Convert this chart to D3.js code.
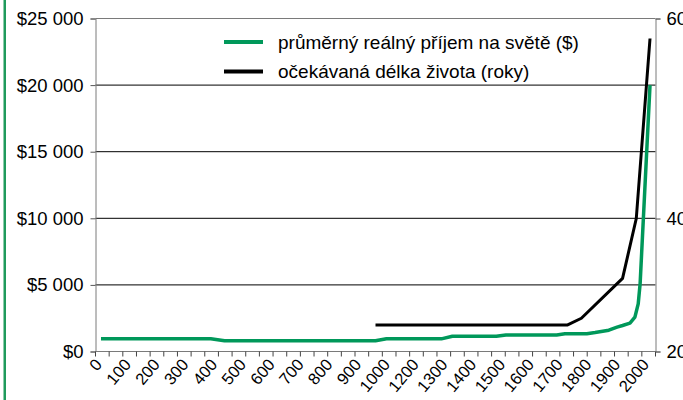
<!DOCTYPE html>
<html><head><meta charset="utf-8">
<script src="https://cdn.jsdelivr.net/npm/d3@7"></script>
<style>
html,body{margin:0;padding:0;background:#fff;}
svg{display:block;font-family:"Liberation Sans",Arial,Helvetica,sans-serif;}
</style></head>
<body>
<svg id="chart" width="683" height="400"></svg>
<script>
// ---- data ----
const categories = [0,50,100,150,200,250,300,350,400,450,500,550,600,650,700,750,800,850,900,950,1000,
  1050,1100,1150,1200,1250,1300,1350,1400,1450,1500,1550,1600,1650,1700,1750,1800,1850,1900,1950,2000];
const xTickLabels = ["0","100","200","300","400","500","600","700","800","900","1000",
  "1200","1300","1400","1500","1600","1700","1800","1900","2000"];
const incomeYears  = [0, 400, 450, 1000, 1040, 1240, 1280, 1440, 1475, 1660, 1690, 1770, 1800, 1850, 1880, 1900, 1927, 1945, 1957, 1964, 2000];
const incomeValues = [950, 950, 800, 800, 950, 950, 1150, 1150, 1240, 1240, 1330, 1330, 1420, 1600, 1830, 1950, 2130, 2580, 3580, 5100, 20000];
const lifeYears  = [1000, 1700, 1750, 1900, 1950, 2000];
const lifeValues = [24, 24, 25, 31, 40, 58];
const leftTicks  = [0, 5000, 10000, 15000, 20000, 25000];
const rightTicks = [20, 40, 60];
const legendLabels = ["průměrný reálný příjem na světě ($)", "očekávaná délka života (roky)"];
const seriesColors = ["#00985a", "#000000"];

// ---- layout ----
const L = 95.5, R = 655.5, T = 18.5, B = 351.5;
const svg = d3.select("#chart");
const fontAxis = "18.5px";

const x = d3.scaleLinear().domain([-20, 2020]).range([L, R]);
const xBand = d3.scaleBand().domain(categories).range([L, R]);
const xLab = d3.scalePoint().domain(xTickLabels).range([103, 650]);
const yL = d3.scaleLinear().domain([0, 25000]).range([B, T]);
const yR = d3.scaleLinear().domain([20, 40, 60]).range([B, 218.5, T]);

const loc = d3.formatLocale({decimal: ",", thousands: " ", grouping: [3], currency: ["$", ""]});
const fmt = loc.format("$,.0f");

// left green frame bar
svg.append("rect").attr("x", 3.5).attr("y", 0).attr("width", 2.5).attr("height", 400).attr("fill", "#1f9a5c");

// gridlines
svg.append("g").selectAll("line").data(leftTicks.filter(d => d > 0 && d < 25000)).join("line")
  .attr("x1", L).attr("x2", R).attr("y1", d => yL(d)).attr("y2", d => yL(d))
  .attr("stroke", "#000").attr("stroke-width", 1);
// top border
svg.append("line").attr("x1", L).attr("x2", R).attr("y1", T).attr("y2", T).attr("stroke", "#7a7a7a");

// left axis
const gL = svg.append("g").attr("transform", `translate(${L},0)`)
  .call(d3.axisLeft(yL).tickValues(leftTicks).tickFormat(fmt).tickSize(5).tickPadding(7));
gL.select(".domain").attr("stroke", "#7a7a7a");
gL.selectAll(".tick line").attr("stroke", "#555");
gL.selectAll("text").attr("font-size", fontAxis).attr("font-family", "Liberation Sans, Arial, sans-serif").attr("fill", "#000");

// right axis
const gR = svg.append("g").attr("transform", `translate(${R},0)`)
  .call(d3.axisRight(yR).tickValues(rightTicks).tickSize(5).tickPadding(6));
gR.select(".domain").attr("stroke", "#7a7a7a");
gR.selectAll(".tick line").attr("stroke", "#555");
gR.selectAll("text").attr("font-size", fontAxis).attr("font-family", "Liberation Sans, Arial, sans-serif").attr("fill", "#000");

// bottom axis: line + tick marks at category boundaries
svg.append("line").attr("x1", L).attr("x2", R).attr("y1", B).attr("y2", B).attr("stroke", "#7a7a7a");
const bounds = categories.map(c => xBand(c)).concat([xBand(categories[categories.length-1]) + xBand.bandwidth()]);
svg.append("g").selectAll("line").data(bounds).join("line")
  .attr("x1", d => d).attr("x2", d => d).attr("y1", B).attr("y2", B + 5)
  .attr("stroke", "#444");
svg.append("g").selectAll("text").data(xTickLabels).join("text")
  .attr("transform", d => `translate(${xLab(d)},365) rotate(-50)`)
  .attr("text-anchor", "end").attr("font-size", "16.5px").attr("fill", "#000")
  .text(d => d);

// lines
const incomeLine = d3.line().x((d, i) => x(incomeYears[i])).y(d => yL(d));
svg.append("path").datum(incomeValues).attr("d", incomeLine)
  .attr("fill", "none").attr("stroke", seriesColors[0]).attr("stroke-width", 3.5)
  .attr("stroke-linejoin", "round");
const lifeLine = d3.line().x((d, i) => x(lifeYears[i])).y(d => yR(d));
svg.append("path").datum(lifeValues).attr("d", lifeLine)
  .attr("fill", "none").attr("stroke", seriesColors[1]).attr("stroke-width", 3)
  .attr("stroke-linejoin", "round");

// legend
const lg = svg.append("g").selectAll("g").data(legendLabels).join("g")
  .attr("transform", (d, i) => `translate(224,${42 + i * 29.5})`);
lg.append("line").attr("x1", 0).attr("x2", 39).attr("y1", 0).attr("y2", 0)
  .attr("stroke", (d, i) => seriesColors[i]).attr("stroke-width", 4);
lg.append("text").attr("x", 54).attr("y", 6.5).attr("font-size", "19px").attr("fill", "#000")
  .text(d => d);
</script>
</body></html>
